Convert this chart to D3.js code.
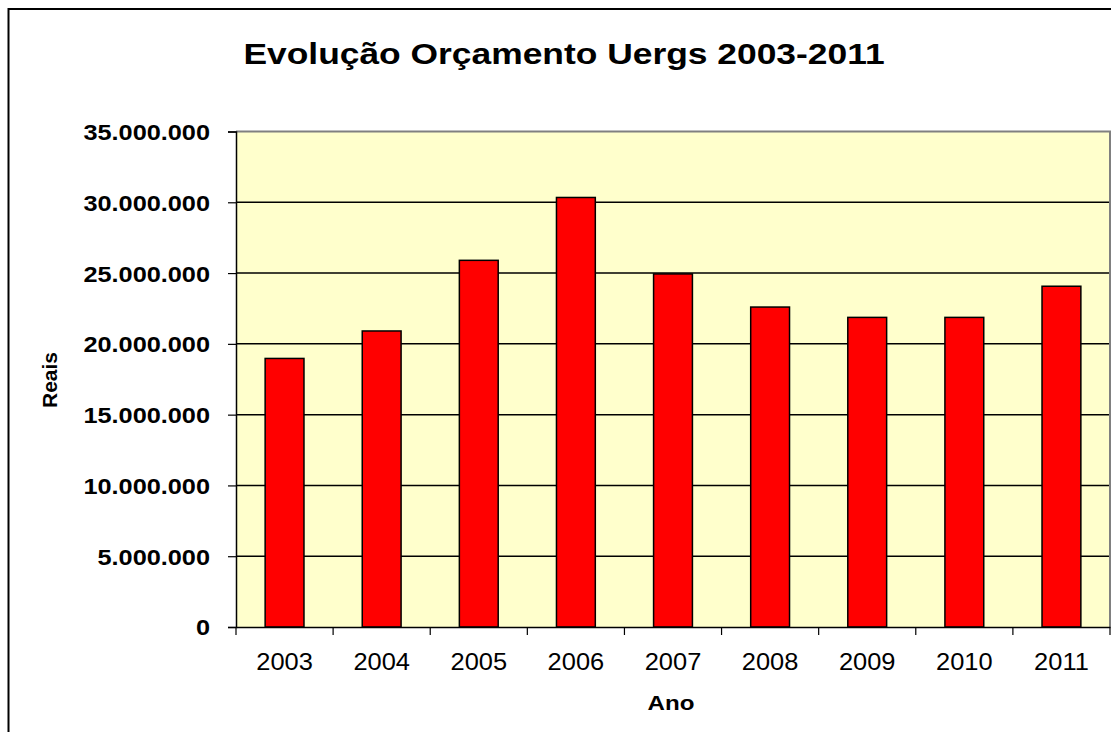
<!DOCTYPE html>
<html>
<head>
<meta charset="utf-8">
<script src="https://cdn.jsdelivr.net/npm/d3@7"></script>
<style>
  html, body { margin: 0; padding: 0; background: #ffffff; }
  svg { display: block; }
  text { font-family: "Liberation Sans", Arial, sans-serif; fill: #000; }
</style>
</head>
<body>
<svg id="chart" width="1111" height="732"></svg>
<script>
// ---- data ----
const years = ["2003", "2004", "2005", "2006", "2007", "2008", "2009", "2010", "2011"];
const budget = [18970000, 20910000, 25900000, 30340000, 24940000, 22600000, 21870000, 21870000, 24070000];
const yTicks = [0, 5000000, 10000000, 15000000, 20000000, 25000000, 30000000, 35000000];
const titleText = "Evolução Orçamento Uergs 2003-2011";
const xTitle = "Ano";
const yTitle = "Reais";

// ---- layout ----
const W = 1111, H = 732;
const plot = { left: 236, right: 1110, top: 131.5, bottom: 627 };

const svg = d3.select("#chart");

// outer frame (extends past right/bottom edges)
svg.append("rect")
  .attr("x", 8.5).attr("y", 9)
  .attr("width", W + 10).attr("height", H + 10)
  .attr("fill", "#fff").attr("stroke", "#000").attr("stroke-width", 2);

const x = d3.scaleBand().domain(years).range([plot.left, plot.right]).paddingInner(0).paddingOuter(0);
const y = d3.scaleLinear().domain([0, 35000000]).range([plot.bottom, plot.top]);

const fmt = v => d3.format(",")(v).replace(/,/g, ".");

// plot background
svg.append("rect")
  .attr("x", plot.left).attr("y", plot.top)
  .attr("width", plot.right - plot.left).attr("height", plot.bottom - plot.top)
  .attr("fill", "#FFFFCC");

// gridlines
svg.append("g")
  .selectAll("line")
  .data(yTicks.filter(d => d > 0 && d < 35000000))
  .join("line")
  .attr("x1", plot.left).attr("x2", plot.right)
  .attr("y1", d => y(d)).attr("y2", d => y(d))
  .attr("stroke", "#000").attr("stroke-width", 1.5);

// plot border (top/right grey)
svg.append("path")
  .attr("d", `M${plot.left},${plot.top}H${plot.right}V${plot.bottom}`)
  .attr("fill", "none").attr("stroke", "#808080").attr("stroke-width", 2);

// bars
const barW = x.bandwidth() * 0.4;
svg.append("g")
  .selectAll("rect")
  .data(years.map((yr, i) => ({ yr, v: budget[i] })))
  .join("rect")
  .attr("x", d => x(d.yr) + (x.bandwidth() - barW) / 2)
  .attr("y", d => y(d.v))
  .attr("width", barW)
  .attr("height", d => y(0) - y(d.v))
  .attr("fill", "#FF0000")
  .attr("stroke", "#000").attr("stroke-width", 1.5);

// y axis
const yAxis = svg.append("g")
  .attr("transform", `translate(${plot.left},0)`)
  .call(d3.axisLeft(y).tickValues(yTicks).tickSize(8).tickFormat(fmt));
yAxis.select(".domain").attr("stroke", "#000").attr("stroke-width", 1.5);
yAxis.selectAll(".tick line").attr("stroke", "#000").attr("stroke-width", 1.2);
yAxis.selectAll(".tick text")
  .attr("x", 0).attr("dy", "0.36em")
  .attr("transform", "translate(-26,0) scale(1.15,1)")
  .style("font-size", "22px").style("font-weight", "bold")
  .attr("text-anchor", "end");

// x axis
const xAxis = svg.append("g")
  .attr("transform", `translate(0,${plot.bottom})`)
  .call(d3.axisBottom(x).tickSize(0).tickFormat(d => d));
xAxis.select(".domain").attr("stroke", "#000").attr("stroke-width", 1.5);
xAxis.selectAll(".tick text")
  .attr("y", 0).attr("dy", 0)
  .attr("transform", "translate(0,43) scale(1.06,1)")
  .style("font-size", "24px");
// x tick marks at category boundaries
svg.append("g")
  .selectAll("line")
  .data(years.map(d => x(d)).concat([plot.right]))
  .join("line")
  .attr("x1", d => d).attr("x2", d => d)
  .attr("y1", plot.bottom).attr("y2", plot.bottom + 8)
  .attr("stroke", "#000").attr("stroke-width", 1.2);

// title
svg.append("text")
  .attr("transform", "translate(564,64) scale(1.18,1)")
  .attr("text-anchor", "middle")
  .style("font-size", "30px").style("font-weight", "bold")
  .text(titleText);

// axis titles
svg.append("text")
  .attr("transform", "translate(671,710) scale(1.15,1)")
  .attr("text-anchor", "middle")
  .style("font-size", "21px").style("font-weight", "bold")
  .text(xTitle);

svg.append("text")
  .attr("transform", "translate(57,380) rotate(-90)")
  .attr("text-anchor", "middle")
  .style("font-size", "21px").style("font-weight", "bold")
  .text(yTitle);
</script>
</body>
</html>
